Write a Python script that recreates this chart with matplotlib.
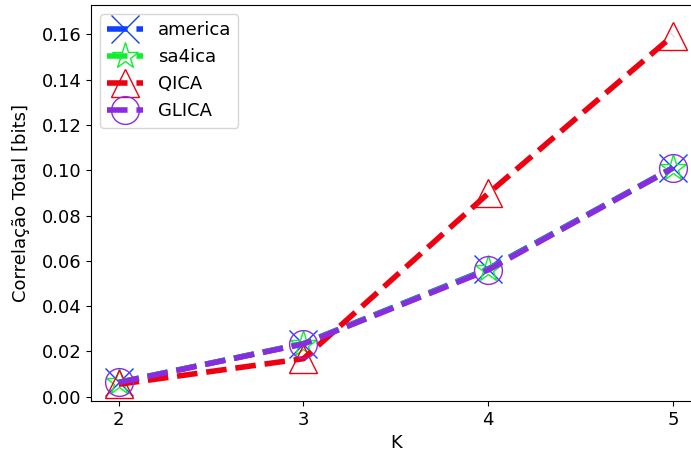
import matplotlib
matplotlib.use('Agg')
import matplotlib.pyplot as plt

k = [2, 3, 4, 5]
america = [0.0063, 0.0235, 0.0565, 0.1012]
sa4ica = [0.0063, 0.0234, 0.0562, 0.1010]
qica = [0.0055, 0.0168, 0.0898, 0.1595]
glica = [0.0063, 0.0233, 0.0560, 0.1010]

plt.rcParams['font.size'] = 13

fig = plt.figure(figsize=(6.91, 4.57), dpi=100)
# axes run a bit past the right edge (reference is cropped there)
ax = fig.add_axes([0.1317, 0.1225, 0.8824, 0.8665])

ax.plot(k, america, '--', color='#1040ff', marker='x', markersize=20, linewidth=4, label='america')
ax.plot(k, sa4ica, '--', color='#10ee30', marker='*', markersize=20, markerfacecolor='none', linewidth=4, label='sa4ica')
ax.plot(k, qica, '--', color='#ee0010', marker='^', markersize=20, markerfacecolor='none', linewidth=4, label='QICA')
ax.plot(k, glica, '--', color='#8a2be2', marker='o', markersize=20, markerfacecolor='none', linewidth=4, label='GLICA')

ax.set_xticks(k)
ax.set_xlim(1.85, 5.15)
ax.set_ylim(-0.0019, 0.173)
ax.set_xlabel('K')
ax.set_ylabel('Correlação Total [bits]', labelpad=8)
ax.legend(loc='upper left')

fig.savefig('out.png', dpi=100)
